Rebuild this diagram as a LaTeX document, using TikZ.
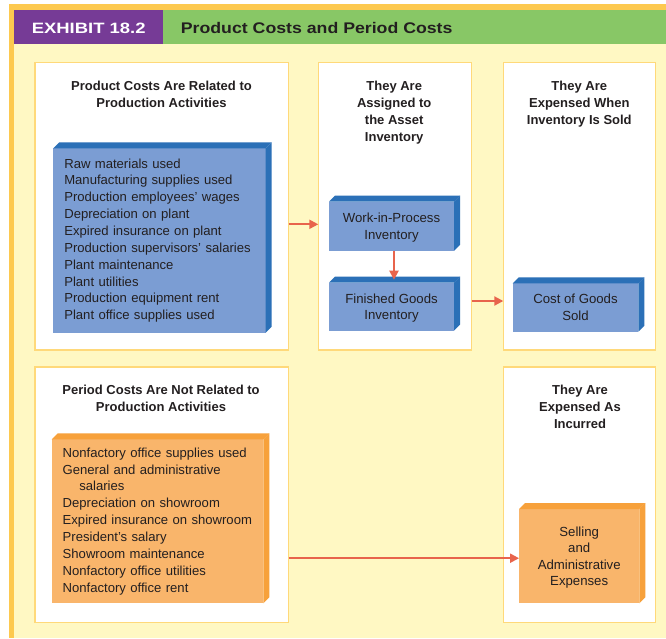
\documentclass[tikz,border=0pt]{standalone}
\usepackage{graphicx}
\usepackage{fontspec}
\setmainfont{Liberation Sans}
\usetikzlibrary{arrows.meta}

\definecolor{frameorange}{HTML}{FDC94F}
\definecolor{paper}{HTML}{FFF8C3}
\definecolor{exhpurple}{HTML}{763B96}
\definecolor{exhgreen}{HTML}{88C766}
\definecolor{panelline}{HTML}{FFD97A}
\definecolor{bluefront}{HTML}{7B9DD3}
\definecolor{blueside}{HTML}{2B70B7}
\definecolor{orangefront}{HTML}{F9B56B}
\definecolor{orangeside}{HTML}{F7A13B}
\definecolor{flowred}{HTML}{E8644C}
\definecolor{ink}{HTML}{231F20}

% top and right faces of a box node, giving it depth
\newcommand{\extrude}[2]{%
  \fill[#2] (#1.north west) -- ([shift={(6,-6)}]#1.north west)
    -- ([shift={(6,-6)}]#1.north east) -- (#1.north east) -- cycle;
  \fill[#2] (#1.north east) -- ([shift={(6,-6)}]#1.north east)
    -- ([shift={(6,-6)}]#1.south east) -- (#1.south east) -- cycle;}

\tikzset{
  panel/.style={draw=panelline, line width=1.3pt, fill=white, inner sep=0pt, outer sep=0pt},
  paneltitle/.style={font=\bfseries\fontsize{13}{17}\selectfont, text=ink, align=center,
    inner sep=0pt, text depth=0pt},
  costbox/.style={inner ysep=0pt, outer sep=0pt, text=ink},
  bluebox/.style={costbox, fill=bluefront},
  orangebox/.style={costbox, fill=orangefront},
  listtext/.style={font=\fontsize{13.1}{16.85}\selectfont, align=left, inner xsep=11pt},
  smalltext/.style={font=\fontsize{13.2}{16.6}\selectfont, align=center, text depth=0pt},
  flow/.style={draw=flowred, line width=2pt, -{Triangle[length=9pt,width=9pt]}}
}

\begin{document}
\begin{tikzpicture}[x=1pt,y=-1pt]
\useasboundingbox (0,0) rectangle (666,638);
\fill[white] (0,0) rectangle (666,638);

% frame and background
\fill[frameorange] (9,4) rectangle (666,638);
\fill[paper] (14,10) rectangle (666,638);

% header band
\fill[exhpurple] (14,10) rectangle (162.7,43.7);
\fill[exhgreen] (162.7,10) rectangle (666,43.7);
\node[text=white, font=\bfseries\fontsize{15}{18}\selectfont, inner sep=0pt] (exh)
  at (88.7,28) {\scalebox{1.23}[1]{EXHIBIT 18.2}};
\node[anchor=west, text=ink, font=\bfseries\fontsize{15.4}{18}\selectfont, inner sep=0pt] (ttl)
  at (180.7,27.8) {\scalebox{1.15}[1]{Product Costs and Period Costs}};

% panels
\node[panel, minimum width=253.5, minimum height=287.3] (p1) at (161.75,206.35) {};
\node[panel, minimum width=153.2, minimum height=287.3] (p2) at (394.9,206.35) {};
\node[panel, minimum width=152.4, minimum height=287.3] (p3) at (579.5,206.35) {};
\node[panel, minimum width=253.5, minimum height=255.7] (p4) at (161.75,494.85) {};
\node[panel, minimum width=152.4, minimum height=255.7] (p5) at (579.5,494.85) {};

% panel headings
\node[paneltitle] (t1) at (161.5,94) {Product Costs Are Related to\\Production Activities};
\node[paneltitle] (t2) at (394.2,111.2) {They Are\\Assigned to\\the Asset\\Inventory};
\node[paneltitle] (t3) at (579.3,102.7) {They Are\\Expensed When\\Inventory Is Sold};
\node[paneltitle] (t4) at (161,398.5) {Period Costs Are Not Related to\\Production Activities};
\node[paneltitle] (t5) at (580,407) {They Are\\Expensed As\\Incurred};

% product cost items
\node[bluebox, listtext, text width=190.4, minimum height=184.4] (prod)
  at (159.5,240.5) {Raw materials used\\Manufacturing supplies used\\Production employees’ wages\\
  Depreciation on plant\\Expired insurance on plant\\Production supervisors’ salaries\\
  Plant maintenance\\Plant utilities\\Production equipment rent\\Plant office supplies used};
\extrude{prod}{blueside}

% inventory accounts
\node[bluebox, smalltext, minimum width=125, minimum height=49.3] (wip)
  at (391.5,226.3) {Work-in-Process\\Inventory};
\extrude{wip}{blueside}
\node[bluebox, smalltext, minimum width=125, minimum height=48] (fg)
  at (391.5,306.7) {Finished Goods\\Inventory};
\extrude{fg}{blueside}

% expense on sale
\node[bluebox, smalltext, minimum width=125.6, minimum height=48.4] (cogs)
  at (575.5,307.5) {Cost of Goods\\Sold};
\extrude{cogs}{blueside}

% period cost items
\node[orangebox, listtext, text width=189.6, minimum height=164] (per)
  at (157.5,521.3) {Nonfactory office supplies used\\General and administrative\\
  \hspace*{16.6pt}salaries\\Depreciation on showroom\\Expired insurance on showroom\\
  President’s salary\\Showroom maintenance\\Nonfactory office utilities\\Nonfactory office rent};
\extrude{per}{orangeside}

% selling and administrative expenses
\node[orangebox, smalltext, minimum width=120.3, minimum height=94.3] (sell)
  at (579.2,556.2) {Selling\\and\\Administrative\\Expenses};
\extrude{sell}{orangeside}

% flows
\coordinate (a1) at ([yshift=2pt]wip.west);
\draw[flow] (p1.east |- a1) -- (p2.west |- a1);
\draw[flow] ([xshift=2.5pt]wip.south) -- ([xshift=2.5pt,yshift=3pt]fg.north);
\coordinate (a2) at ([yshift=5.7pt]fg.east);
\draw[flow] (p2.east |- a2) -- (p3.west |- a2);
\coordinate (a3) at ([yshift=-2pt]sell.west);
\draw[flow] (p4.east |- a3) -- (sell.west |- a3);
\end{tikzpicture}
\end{document}
